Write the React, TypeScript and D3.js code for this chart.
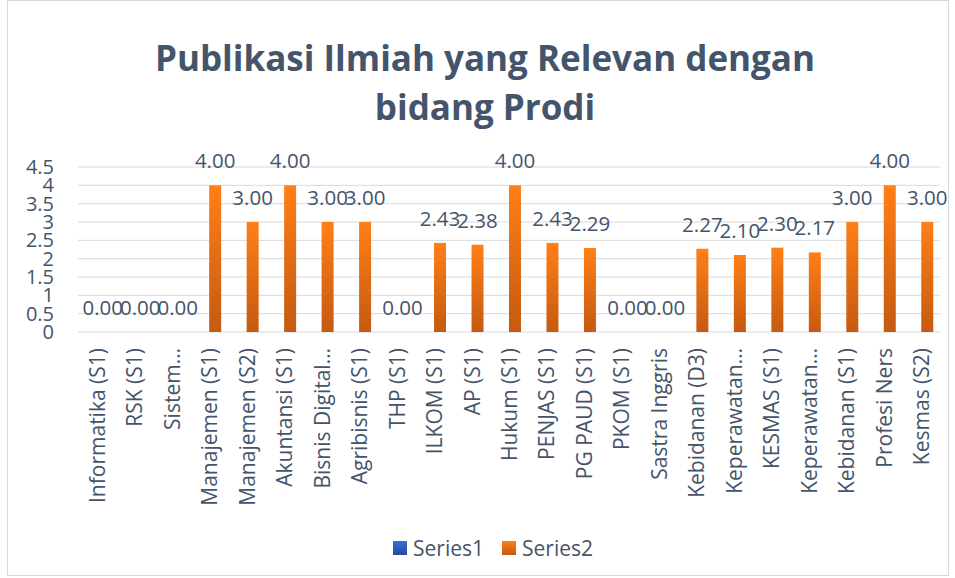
import React, { useEffect, useRef } from "react";
import * as d3 from "d3";

const categories = [
  "Informatika (S1)",
  "RSK (S1)",
  "Sistem…",
  "Manajemen (S1)",
  "Manajemen (S2)",
  "Akuntansi  (S1)",
  "Bisnis Digital…",
  "Agribisnis  (S1)",
  "THP (S1)",
  "ILKOM (S1)",
  "AP (S1)",
  "Hukum (S1)",
  "PENJAS (S1)",
  "PG PAUD (S1)",
  "PKOM (S1)",
  "Sastra Inggris",
  "Kebidanan  (D3)",
  "Keperawatan…",
  "KESMAS (S1)",
  "Keperawatan…",
  "Kebidanan (S1)",
  "Profesi Ners",
  "Kesmas (S2)",
];
const series1 = categories.map(() => 0);
const series2 = [0, 0, 0, 4, 3, 4, 3, 3, 0, 2.43, 2.38, 4, 2.43, 2.29, 0, 0, 2.27, 2.1, 2.3, 2.17, 3, 4, 3];
const yTicks = [0, 0.5, 1, 1.5, 2, 2.5, 3, 3.5, 4, 4.5];
const seriesNames = ["Series1", "Series2"];

const W = 955;
const H = 578;
const FONT = "'Open Sans', sans-serif";
const TEXT = "#44546a";

const App: React.FC = () => {
  const svgRef = useRef<SVGSVGElement | null>(null);

  useEffect(() => {
    if (!svgRef.current) return;
    const svg = d3.select(svgRef.current);
    svg.selectAll("*").remove();

    const left = 78;
    const right = 940;
    const top = 167;
    const bottom = 332;

    const x = d3.scaleBand<string>().domain(categories.map((c, i) => i + "")).range([left, right]);
    const xSub = d3.scaleBand<string>().domain(seriesNames).range([0, x.bandwidth()]).paddingOuter(0.5625);
    const y = d3.scaleLinear().domain([0, 4.5]).range([bottom, top]);

    const defs = svg.append("defs");
    const grads = [
      { id: "g1", top: "#3a6fd8", bottom: "#24499c" },
      { id: "g2", top: "#ff7f17", bottom: "#c55a11" },
    ];
    grads.forEach((g) => {
      const lg = defs.append("linearGradient").attr("id", g.id).attr("x1", 0).attr("x2", 0).attr("y1", 0).attr("y2", 1);
      lg.append("stop").attr("offset", "0%").attr("stop-color", g.top);
      lg.append("stop").attr("offset", "100%").attr("stop-color", g.bottom);
    });

    // chart frame
    svg.append("rect")
      .attr("x", 7.5).attr("y", 0.5).attr("width", 941).attr("height", 575)
      .attr("fill", "white").attr("stroke", "#d9d9d9");

    // title
    const title = svg.append("text")
      .attr("text-anchor", "middle")
      .attr("font-family", FONT)
      .attr("font-weight", "bold")
      .attr("font-size", 35)
      .attr("fill", TEXT);
    title.append("tspan").attr("x", 485).attr("y", 71).text("Publikasi Ilmiah yang Relevan dengan");
    title.append("tspan").attr("x", 485).attr("y", 120).text("bidang Prodi");

    // gridlines
    svg.append("g")
      .selectAll("line")
      .data(yTicks)
      .join("line")
      .attr("x1", left).attr("x2", right)
      .attr("y1", (d) => y(d)).attr("y2", (d) => y(d))
      .attr("stroke", "#d9d9d9").attr("stroke-width", 1);

    // y tick labels
    svg.append("g")
      .selectAll("text")
      .data(yTicks)
      .join("text")
      .attr("x", 54)
      .attr("y", (d) => y(d) + 7)
      .attr("text-anchor", "end")
      .attr("font-family", FONT)
      .attr("font-size", 20)
      .attr("fill", TEXT)
      .text((d) => d3.format("~g")(d));

    // bars
    const data = [series1, series2];
    data.forEach((vals, si) => {
      svg.append("g")
        .selectAll("rect")
        .data(vals)
        .join("rect")
        .attr("x", (d, i) => (x(i + "") || 0) + (xSub(seriesNames[si]) || 0))
        .attr("width", xSub.bandwidth())
        .attr("y", (d) => y(d))
        .attr("height", (d) => bottom - y(d))
        .attr("fill", `url(#g${si + 1})`);
    });

    // data labels for series2
    svg.append("g")
      .selectAll("text")
      .data(series2)
      .join("text")
      .attr("x", (d, i) => (x(i + "") || 0) + (xSub("Series2") || 0) + xSub.bandwidth() / 2)
      .attr("y", (d) => y(d) - 17)
      .attr("text-anchor", "middle")
      .attr("font-family", FONT)
      .attr("font-size", 20.5)
      .attr("fill", TEXT)
      .text((d) => d.toFixed(2));

    // x category labels
    svg.append("g")
      .selectAll("text")
      .data(categories)
      .join("text")
      .attr("transform", (d, i) => `translate(${(x(i + "") || 0) + x.bandwidth() / 2 + 8},348) rotate(-90)`)
      .attr("text-anchor", "end")
      .attr("font-family", FONT)
      .attr("font-size", 21)
      .attr("fill", TEXT)
      .text((d) => d);

    // legend
    const legend = svg.append("g");
    const legendX = [393, 502];
    seriesNames.forEach((name, i) => {
      legend.append("rect")
        .attr("x", legendX[i]).attr("y", 541).attr("width", 14).attr("height", 14)
        .attr("fill", `url(#g${i + 1})`);
      legend.append("text")
        .attr("x", legendX[i] + 20).attr("y", 556)
        .attr("font-family", FONT)
        .attr("font-size", 21)
        .attr("fill", TEXT)
        .text(name);
    });
  }, []);

  return (
    <svg
      ref={svgRef}
      width={W}
      height={H}
      style={{ position: "absolute", left: 0, top: 0, display: "block" }}
    ></svg>
  );
};

export default App;
